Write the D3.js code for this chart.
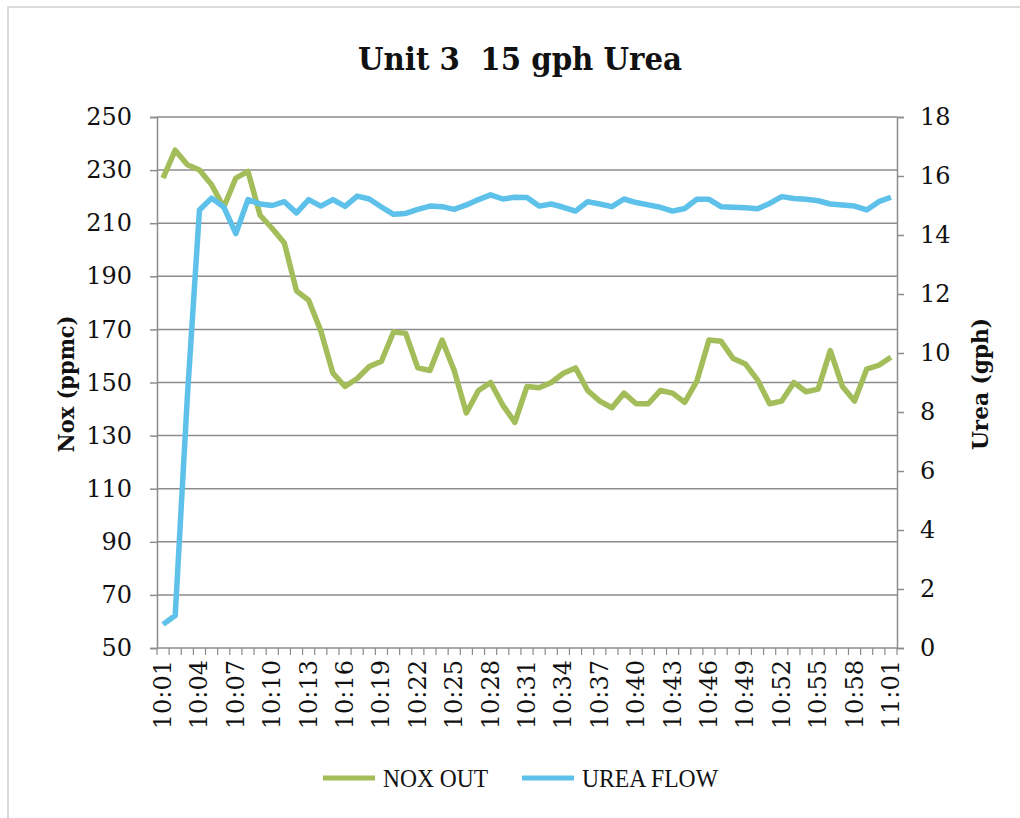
<!DOCTYPE html>
<html>
<head>
<meta charset="utf-8">
<script src="https://cdn.jsdelivr.net/npm/d3@7"></script>
<style>
  body { margin: 0; background: #fff; }
  svg text { fill: #111; }
</style>
</head>
<body>
<div id="chart"></div>
<script>
// minute stamps along the category axis
const times = [
  "10:01","10:02","10:03","10:04","10:05","10:06","10:07","10:08","10:09","10:10",
  "10:11","10:12","10:13","10:14","10:15","10:16","10:17","10:18","10:19","10:20",
  "10:21","10:22","10:23","10:24","10:25","10:26","10:27","10:28","10:29","10:30",
  "10:31","10:32","10:33","10:34","10:35","10:36","10:37","10:38","10:39","10:40",
  "10:41","10:42","10:43","10:44","10:45","10:46","10:47","10:48","10:49","10:50",
  "10:51","10:52","10:53","10:54","10:55","10:56","10:57","10:58","10:59","11:00",
  "11:01"];

// NOX OUT (ppmc), left axis
const noxOut = [
  227, 237.5, 232, 230, 224.5, 216, 227, 229.5, 213, 208,
  202.5, 184.5, 181, 169.5, 153.5, 148.5, 151.5, 156, 158, 169,
  168.5, 155.5, 154.5, 166, 154.5, 138.5, 147, 150, 141.5, 135,
  148.5, 148, 150, 153.5, 155.5, 147, 143, 140.5, 146, 142,
  142, 147, 146, 142.5, 150.5, 166, 165.5, 159, 157, 151,
  142, 143, 150, 146.5, 147.5, 162, 148.5, 143, 155, 156.5,
  159.5];

// UREA FLOW (gph), right axis
const ureaFlow = [
  0.8, 1.1, 8.5, 14.85, 15.25, 14.95, 14.05, 15.2, 15.05, 15.0,
  15.13, 14.75, 15.2, 14.98, 15.2, 14.97, 15.32, 15.22, 14.95, 14.7,
  14.73, 14.87, 14.98, 14.96, 14.87, 15.02, 15.2, 15.36, 15.22, 15.28,
  15.27, 14.98, 15.05, 14.94, 14.81, 15.13, 15.05, 14.96, 15.22, 15.1,
  15.02, 14.94, 14.81, 14.9, 15.21, 15.21, 14.96, 14.94, 14.92, 14.89,
  15.07, 15.3, 15.24, 15.21, 15.16, 15.05, 15.02, 14.98, 14.85, 15.13,
  15.28];

const leftTicks = [50, 70, 90, 110, 130, 150, 170, 190, 210, 230, 250];
const rightTicks = [0, 2, 4, 6, 8, 10, 12, 14, 16, 18];

const W = 1020, H = 818;
const margin = {top: 117, right: 123, bottom: 170, left: 157};
const width = W - margin.left - margin.right,
      height = H - margin.top - margin.bottom;

const noxColor = "#a3bd5b";
const ureaColor = "#5ec1ea";
const gridColor = "#8c8c8c";
const serif = "'DejaVu Serif', serif";

const root = d3.select("#chart").append("svg")
  .attr("width", W).attr("height", H);

// faint page frame (left + top edge of the scanned chart area)
root.append("path")
  .attr("d", "M8,818 L8,7 L1020,7")
  .attr("fill", "none").attr("stroke", "#d0d0d0").attr("stroke-width", 1.5);

const svg = root.append("g")
  .attr("transform", `translate(${margin.left}, ${margin.top})`);

const x = d3.scaleBand().domain(times).range([0, width]);
const yL = d3.scaleLinear().domain([50, 250]).range([height, 0]);
const yR = d3.scaleLinear().domain([0, 18]).range([height, 0]);

// horizontal gridlines
svg.append("g")
  .selectAll("line")
  .data(leftTicks.slice(1))
  .join("line")
  .attr("x1", 0).attr("x2", width)
  .attr("y1", d => yL(d)).attr("y2", d => yL(d))
  .attr("stroke", gridColor).attr("stroke-width", 1.5);

// left axis
const axL = svg.append("g")
  .call(d3.axisLeft(yL).tickValues(leftTicks).tickSize(7).tickPadding(18));
axL.selectAll("text").style("font-family", serif).style("font-size", "24px");

// right axis
const axR = svg.append("g")
  .attr("transform", `translate(${width}, 0)`)
  .call(d3.axisRight(yR).tickValues(rightTicks).tickSize(7).tickPadding(16));
axR.selectAll("text").style("font-family", serif).style("font-size", "24px");

// bottom axis: ticks at category boundaries, labels every 3 minutes
const xb = svg.append("g").attr("transform", `translate(0, ${height})`);
xb.append("line").attr("x1", 0).attr("x2", width).attr("y1", 0).attr("y2", 0)
  .attr("stroke", gridColor).attr("stroke-width", 1.5);
xb.selectAll("line.tk")
  .data(times.concat(["end"]))
  .join("line").attr("class", "tk")
  .attr("x1", (d, i) => i * x.step()).attr("x2", (d, i) => i * x.step())
  .attr("y1", 0).attr("y2", 7)
  .attr("stroke", gridColor).attr("stroke-width", 1.2);
xb.selectAll("text")
  .data(times.filter((d, i) => i % 3 === 0))
  .join("text")
  .attr("transform", d => `translate(${x(d) + x.bandwidth() / 2 + 8}, 12) rotate(-90)`)
  .attr("text-anchor", "end")
  .style("font-family", serif).style("font-size", "24px")
  .text(d => d);

[axL, axR].forEach(a => {
  a.select(".domain").attr("stroke", gridColor).attr("stroke-width", 1.5);
  a.selectAll(".tick line").attr("stroke", gridColor).attr("stroke-width", 1.5);
});

// series
const lineL = d3.line().x((d, i) => x(times[i]) + x.bandwidth() / 2).y(d => yL(d));
const lineR = d3.line().x((d, i) => x(times[i]) + x.bandwidth() / 2).y(d => yR(d));

svg.append("path").datum(noxOut)
  .attr("d", lineL).attr("fill", "none")
  .attr("stroke", noxColor).attr("stroke-width", 5.5)
  .attr("stroke-linejoin", "round");

svg.append("path").datum(ureaFlow)
  .attr("d", lineR).attr("fill", "none")
  .attr("stroke", ureaColor).attr("stroke-width", 5.5)
  .attr("stroke-linejoin", "round");

// title (keep the double space)
root.append("text")
  .attr("x", 520).attr("y", 70)
  .attr("text-anchor", "middle")
  .attr("textLength", 324).attr("lengthAdjust", "spacingAndGlyphs")
  .style("white-space", "pre")
  .style("font-family", serif).style("font-weight", "bold").style("font-size", "32px")
  .text("Unit 3  15 gph Urea");

// axis titles
root.append("text")
  .attr("transform", "translate(74, 384) rotate(-90)")
  .attr("text-anchor", "middle")
  .attr("textLength", 137).attr("lengthAdjust", "spacingAndGlyphs")
  .style("font-family", serif).style("font-weight", "bold").style("font-size", "22px")
  .text("Nox (ppmc)");

root.append("text")
  .attr("transform", "translate(988, 384) rotate(-90)")
  .attr("text-anchor", "middle")
  .attr("textLength", 132).attr("lengthAdjust", "spacingAndGlyphs")
  .style("font-family", serif).style("font-weight", "bold").style("font-size", "22px")
  .text("Urea (gph)");

// legend
const legendItems = [
  {name: "NOX OUT", color: noxColor, x: 323, len: 105},
  {name: "UREA FLOW", color: ureaColor, x: 522, len: 136}
];
const lg = root.append("g").selectAll("g").data(legendItems).join("g")
  .attr("transform", d => `translate(${d.x}, 778)`);
lg.append("line").attr("x1", 0).attr("x2", 52).attr("y1", 0).attr("y2", 0)
  .attr("stroke", d => d.color).attr("stroke-width", 5);
lg.append("text").attr("x", 60).attr("y", 9)
  .attr("textLength", d => d.len).attr("lengthAdjust", "spacingAndGlyphs")
  .style("font-family", "'Liberation Serif', serif").style("font-size", "25px")
  .text(d => d.name);
</script>
</body>
</html>
